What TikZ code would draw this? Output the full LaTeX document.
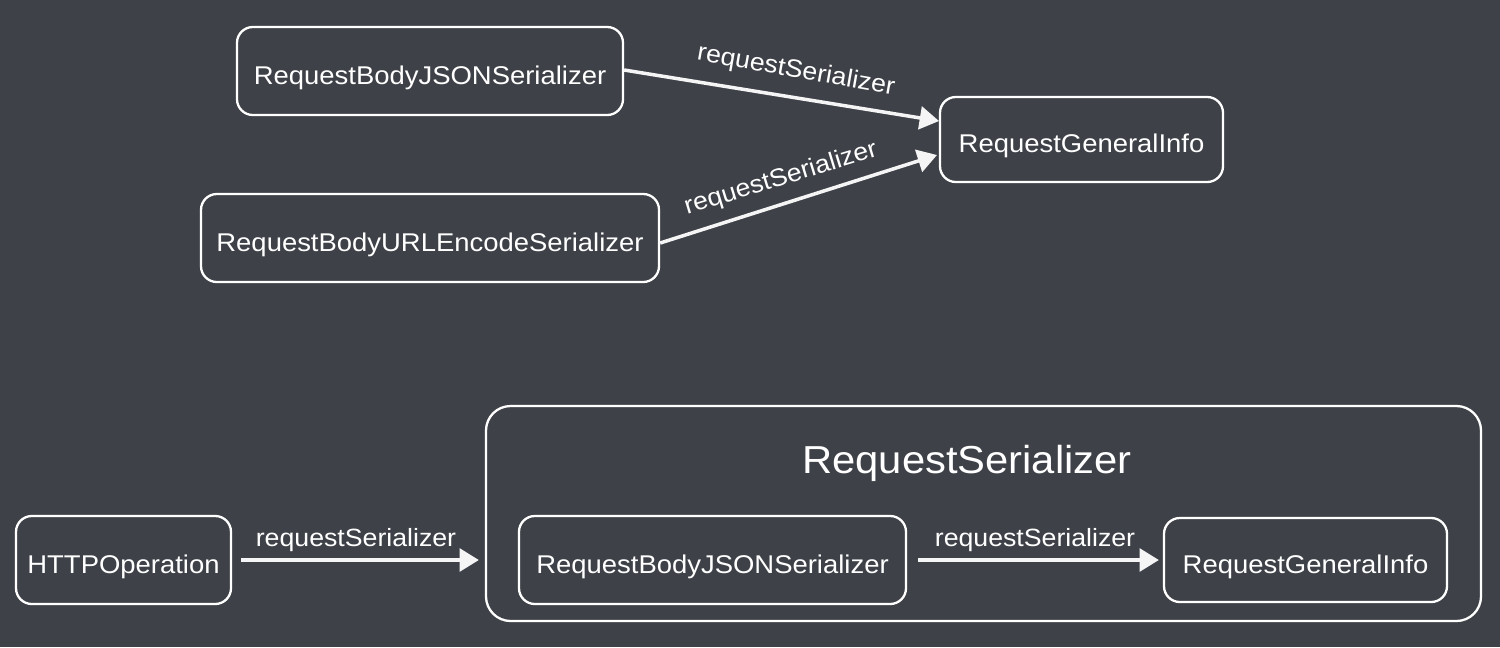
\documentclass[tikz,border=0pt]{standalone}
\usepackage{fontspec}
\setmainfont[FakeStretch=1.07]{Liberation Sans}
\usetikzlibrary{arrows.meta}
\definecolor{board}{RGB}{62,66,72}
\newcommand\lowtxt[1]{\raisebox{-3.8pt}[\height][\depth]{#1}}
\tikzset{
  box/.style={draw=white, line width=1.3pt, rounded corners=9pt, text=white, inner sep=0pt, font=\fontsize{14.6}{16}\selectfont},
  arr/.style={draw=white!92!gray, line width=2pt, -{Triangle[length=11pt,width=13pt]}},
  lbl/.style={text=white, font=\fontsize{14.2}{16}\selectfont, inner sep=0pt},
}
\begin{document}
\begin{tikzpicture}[x=0.02cm,y=-0.02cm]
\fill[board] (0,0) rectangle (1500,647);
\useasboundingbox (0,0) rectangle (1500,647);
% top
\node[box, minimum width=386*0.02cm, minimum height=88*0.02cm] (j1) at (430,71) {\lowtxt{RequestBodyJSONSerializer}};
\node[box, minimum width=283*0.02cm, minimum height=85*0.02cm] (g1) at (1081.5,139.5) {\lowtxt{RequestGeneralInfo}};
\node[box, minimum width=458*0.02cm, minimum height=88*0.02cm] (u1) at (430,238) {\lowtxt{RequestBodyURLEncodeSerializer}};
\coordinate (a1e) at (939,121);
\coordinate (a2e) at (937,155);
\draw[arr] (j1.east) ++(0,-1) -- (a1e);
\draw[arr] (u1.east) ++(0,5) -- (a2e);
\node[lbl, rotate=-10] (l1) at (796,71) {requestSerializer};
\node[lbl, rotate=17] (l2) at (781,179) {requestSerializer};
% bottom
\node[box, draw, rounded corners=14pt, minimum width=995*0.02cm, minimum height=215*0.02cm] (rs) at (983.5,513.5) {};
\node[text=white, font=\fontsize{22.2}{25}\selectfont, inner sep=0pt] (rst) at (967,463) {RequestSerializer};
\node[box, minimum width=215*0.02cm, minimum height=88*0.02cm] (h) at (123.5,560) {\lowtxt{HTTPOperation}};
\node[box, minimum width=387*0.02cm, minimum height=88*0.02cm] (j2) at (712.5,560) {\lowtxt{RequestBodyJSONSerializer}};
\node[box, minimum width=283*0.02cm, minimum height=84*0.02cm] (g2) at (1305.5,560) {\lowtxt{RequestGeneralInfo}};
\draw[arr] ([xshift=9*0.02cm]h.east) -- ([xshift=-6*0.02cm]rs.west |- h.east);
\draw[arr] ([xshift=11*0.02cm]j2.east) -- ([xshift=-4*0.02cm]g2.west);
\node[lbl] (l3) at (356,540) {requestSerializer};
\node[lbl] (l4) at (1035,540) {requestSerializer};
\end{tikzpicture}
\end{document}
